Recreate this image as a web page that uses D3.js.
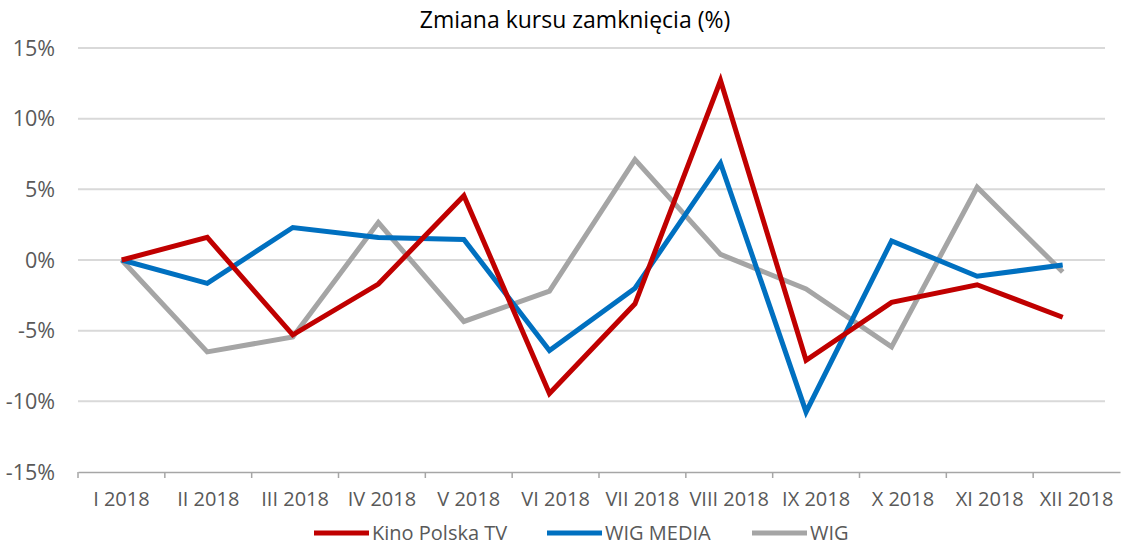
<!DOCTYPE html>
<html>
<head>
<meta charset="utf-8">
<script src="https://cdn.jsdelivr.net/npm/d3@7"></script>
<style>
  body { margin: 0; background: #fff; }
  svg { display: block; font-family: "Open Sans", sans-serif; }
</style>
</head>
<body>
<svg width="1123" height="546"></svg>
<script>
const months = ['I 2018', 'II 2018', 'III 2018', 'IV 2018', 'V 2018', 'VI 2018',
  'VII 2018', 'VIII 2018', 'IX 2018', 'X 2018', 'XI 2018', 'XII 2018'];
const yTicks = [-15, -10, -5, 0, 5, 10, 15];

const kinoPolska = [0, 1.6, -5.3, -1.7, 4.55, -9.45, -3.1, 12.7, -7.1, -3.0, -1.75, -4.05];
const wigMedia = [0, -1.65, 2.3, 1.6, 1.45, -6.4, -2.0, 6.85, -10.75, 1.35, -1.15, -0.35];
const wig = [0, -6.5, -5.45, 2.65, -4.35, -2.2, 7.1, 0.4, -2.05, -6.15, 5.15, -0.85];

const series = [
  { name: 'Kino Polska TV', values: kinoPolska, color: '#c00000' },
  { name: 'WIG MEDIA', values: wigMedia, color: '#0070c0' },
  { name: 'WIG', values: wig, color: '#a5a5a5' }
];

const svg = d3.select('svg');

const y = d3.scaleLinear().domain([-15, 15]).range([472, 48]);
// category axis
const xBand = d3.scaleBand().domain(months).range([78, 1120]);
// line points (slightly narrower spacing in the source picture)
const xPt = d3.scalePoint().domain(months).range([121.7, 1062.7]);

svg.append('text')
  .attr('x', 575)
  .attr('y', 28)
  .attr('text-anchor', 'middle')
  .attr('font-size', 23)
  .attr('fill', '#000')
  .text('Zmiana kursu zamknięcia (%)');

// gridlines
svg.append('g')
  .selectAll('line')
  .data(yTicks.filter(d => d !== -15))
  .enter().append('line')
    .attr('x1', 78)
    .attr('x2', 1105)
    .attr('y1', d => y(d))
    .attr('y2', d => y(d))
    .attr('stroke', '#d9d9d9')
    .attr('stroke-width', 2);

// y labels
svg.append('g')
  .selectAll('text')
  .data(yTicks)
  .enter().append('text')
    .attr('x', 55)
    .attr('y', d => y(d))
    .attr('dy', '0.35em')
    .attr('text-anchor', 'end')
    .attr('font-size', 21.5)
    .attr('fill', '#595959')
    .text(d => d + '%');

// x axis
const xAxis = svg.append('g')
  .attr('transform', `translate(0,${y(-15)})`)
  .call(d3.axisBottom(xBand).tickSize(0).tickPadding(20));
xAxis.select('.domain').attr('stroke', '#a6a6a6').attr('stroke-width', 1.5);
xAxis.selectAll('text')
  .attr('font-size', 20)
  .attr('font-family', '"Open Sans", sans-serif')
  .attr('fill', '#595959');

xAxis.append('g')
  .selectAll('line')
  .data(months)
  .enter().append('line')
    .attr('x1', d => xBand(d))
    .attr('x2', d => xBand(d))
    .attr('y1', 0)
    .attr('y2', 6)
    .attr('stroke', '#a6a6a6')
    .attr('stroke-width', 1.5);

// lines
const line = d3.line()
  .x((d, i) => xPt(months[i]))
  .y(d => y(d));

svg.append('g')
  .selectAll('path')
  .data(series.slice().reverse())
  .enter().append('path')
    .attr('d', d => line(d.values))
    .attr('fill', 'none')
    .attr('stroke', d => d.color)
    .attr('stroke-width', 5);

// legend
const legendX = [314, 547, 752];
const legend = svg.append('g')
  .selectAll('g')
  .data(series)
  .enter().append('g')
    .attr('transform', (d, i) => `translate(${legendX[i]},533)`);

legend.append('line')
  .attr('x1', 0)
  .attr('x2', 55)
  .attr('stroke', d => d.color)
  .attr('stroke-width', 5);

legend.append('text')
  .attr('x', 58)
  .attr('dy', '0.35em')
  .attr('font-size', 20)
  .attr('fill', '#595959')
  .text(d => d.name);
</script>
</body>
</html>
